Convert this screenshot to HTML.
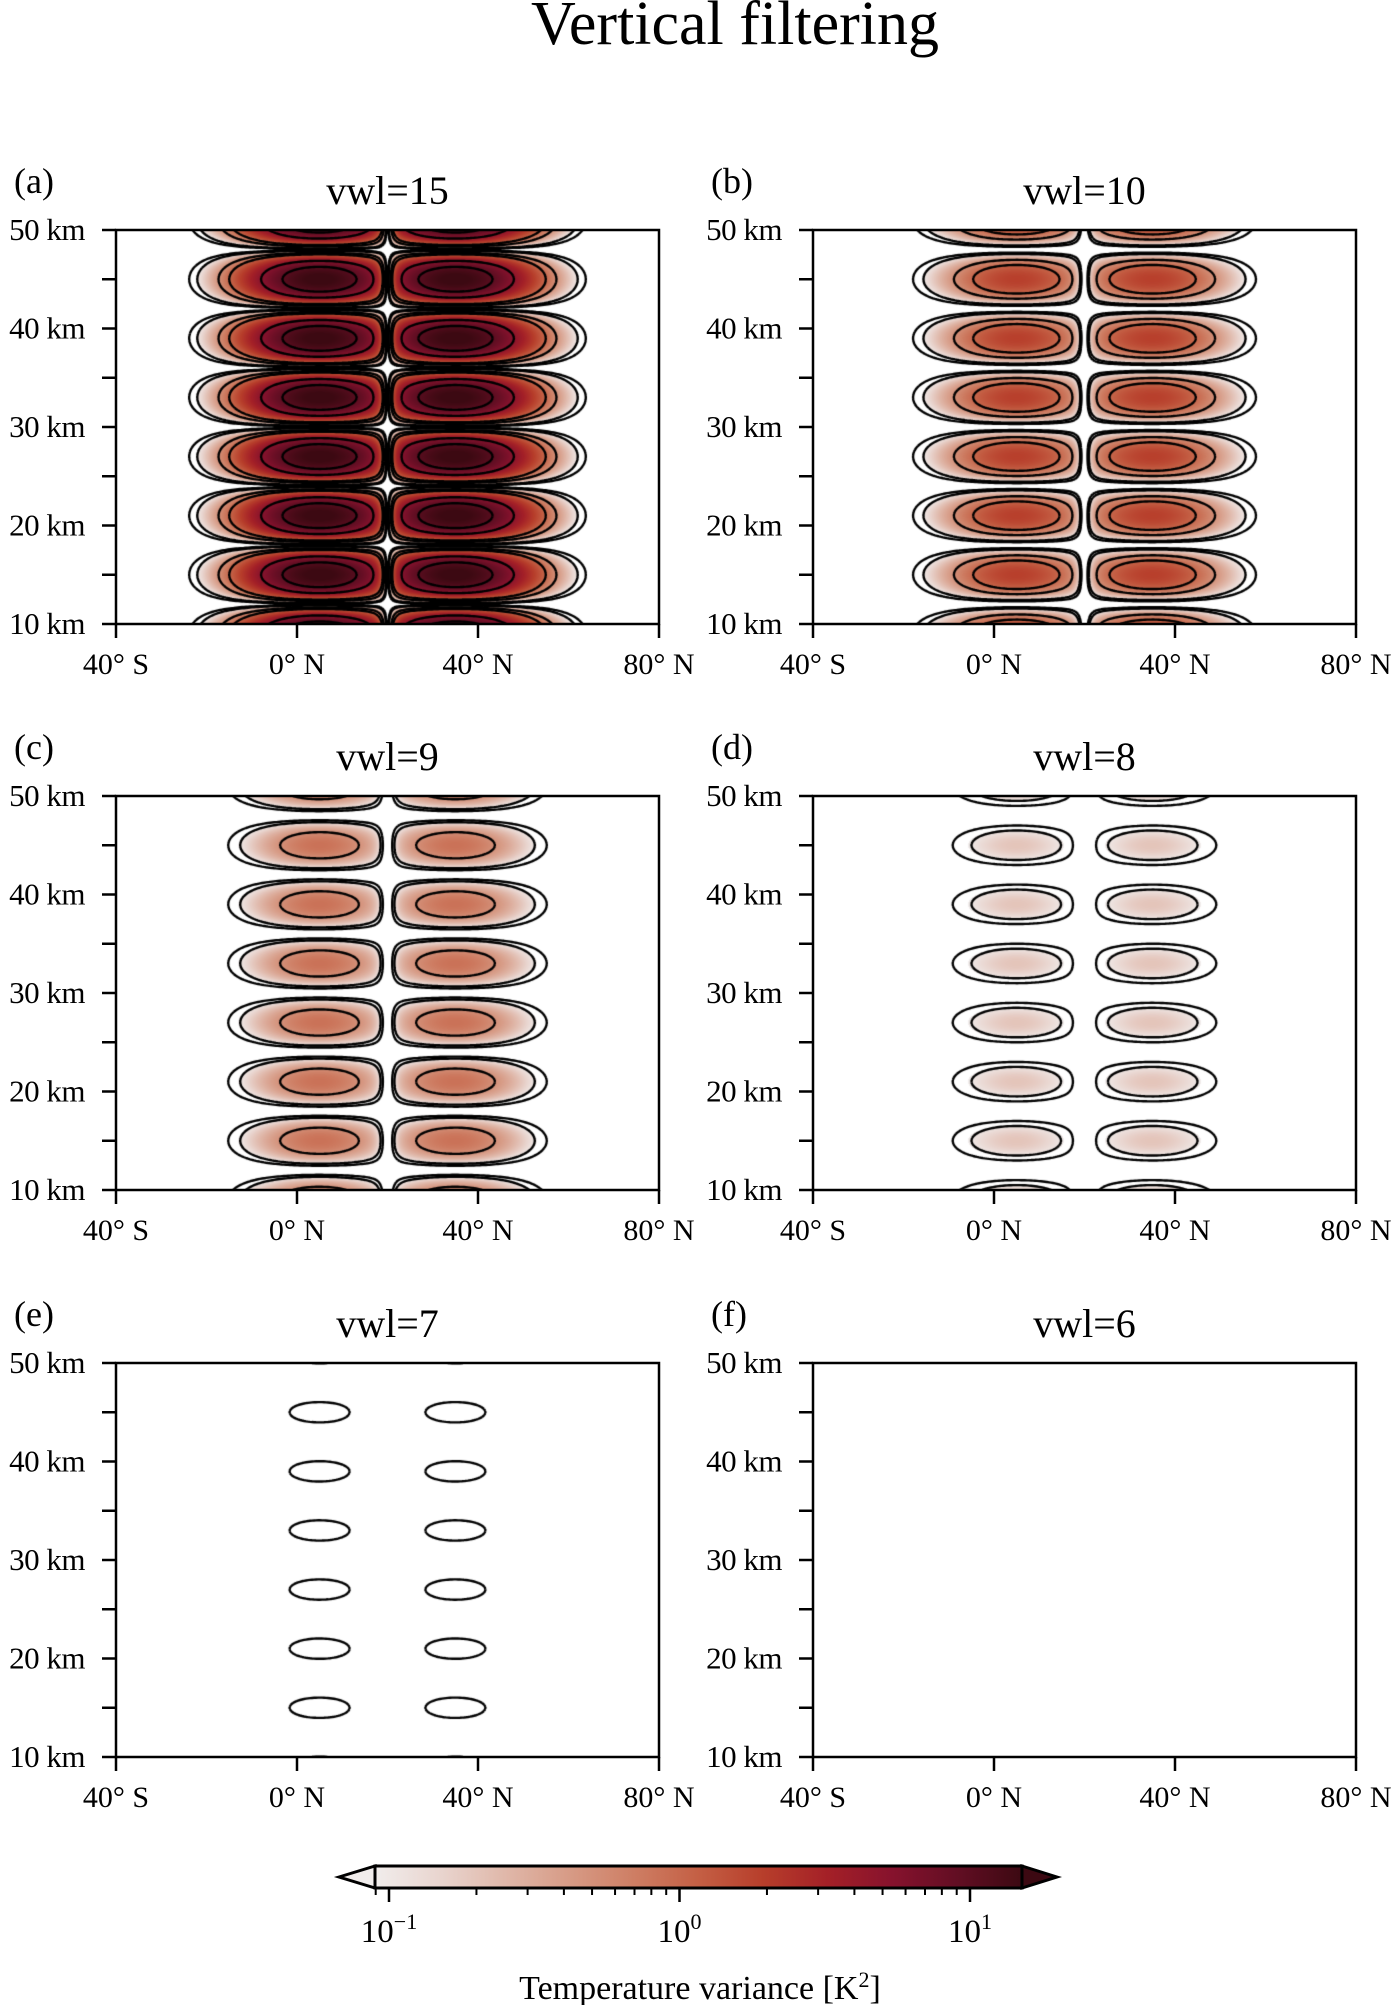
<!DOCTYPE html>
<html><head><meta charset="utf-8"><style>
html,body{margin:0;padding:0;background:#fff}
#root{position:relative;width:1395px;height:2005px;overflow:hidden;font-family:"Liberation Serif",serif}
canvas{position:absolute}
svg{position:absolute;left:0;top:0}
</style></head><body>
<div id="root">
<canvas id="c0" width="543" height="394" style="left:116px;top:230px"></canvas>
<canvas id="c1" width="543" height="394" style="left:813px;top:230px"></canvas>
<canvas id="c2" width="543" height="394" style="left:116px;top:796px"></canvas>
<canvas id="c3" width="543" height="394" style="left:813px;top:796px"></canvas>
<canvas id="c4" width="543" height="394" style="left:116px;top:1363px"></canvas>
<canvas id="c5" width="543" height="394" style="left:813px;top:1363px"></canvas>
<svg id="ov" width="1395" height="2005">
<text x="735" y="44" font-size="62" text-anchor="middle">Vertical filtering</text>
</svg>
</div>
<script>
const panelLabels=['(a)','(b)','(c)','(d)','(e)','(f)'];
const vwlValues=[15,10,9,8,7,6];
const peakVariance=[16,1.9,0.85,0.2,0.068,0.03];
const blobLatitudes=[5,35];
const layerHeights=[9,15,21,27,33,39,45,51];
const contourLevels=[0.05,0.1,0.5,1,5,10];
const xTicks=[-40,0,40,80];
const xTickLabels=['40° S','0° N','40° N','80° N'];
const yTicks=[10,20,30,40,50];
const yTickLabels=['10 km','20 km','30 km','40 km','50 km'];
const yMinorTicks=[15,25,35,45];
const cbarMajor=[0.1,1,10];
const cbarMajorLabels=['-1','0','1'];
const cbarMinor=[0.09,0.2,0.3,0.4,0.5,0.6,0.7,0.8,0.9,2,3,4,5,6,7,8,9];

const PW=543,PH=394,LATMIN=-40,LATMAX=80,ZMIN=10,ZMAX=50;
const colL=[116,813],rowT=[230,796,1363];
const xs=lat=>(lat-LATMIN)/(LATMAX-LATMIN)*PW;
const ys=z=>PH-(z-ZMIN)/(ZMAX-ZMIN)*PH;
const VMIN=0.0895,VMAX=15.1;
const stops=[[241,237,236],[233,213,207],[224,184,170],[215,155,134],[206,126,100],[196,95,68],[183,62,43],[164,32,39],[134,18,45],[98,14,35],[60,9,18]];
function cmap(v){let t=(Math.log10(v)-Math.log10(VMIN))/(Math.log10(VMAX)-Math.log10(VMIN));t=Math.max(0,Math.min(1,t));const f=t*10,i=Math.min(9,Math.floor(f)),r=f-i;return stops[i].map((c,k)=>Math.round(c+(stops[i+1][k]-c)*r));}
function field(A,lat,z){
  let zc=layerHeights[0];for(const h of layerHeights) if(Math.abs(z-h)<Math.abs(z-zc)) zc=h;
  const V=Math.pow(Math.cos(Math.PI*(z-zc)/6),2);
  let H=0;for(const c of blobLatitudes){const d=(lat-c)/12;H=Math.max(H,Math.exp(-d*d));}
  const g=Math.tanh((lat-20)/2);H*=g*g;
  return A*H*V;
}
const NS='http://www.w3.org/2000/svg';
const ov=document.getElementById('ov');
function sv(tag,attrs,txt){const e=document.createElementNS(NS,tag);for(const k in attrs)e.setAttribute(k,attrs[k]);if(txt!==undefined)e.textContent=txt;ov.appendChild(e);return e;}
for(let p=0;p<6;p++){
  const A=peakVariance[p];const cv=document.getElementById('c'+p);const ctx=cv.getContext('2d');
  const img=ctx.createImageData(PW,PH);
  for(let j=0;j<PH;j++){const z=ZMAX-(j+0.5)/PH*(ZMAX-ZMIN);
    for(let i=0;i<PW;i++){const lat=LATMIN+(i+0.5)/PW*(LATMAX-LATMIN);const v=field(A,lat,z);const o=(j*PW+i)*4;
      let c=[255,255,255];if(v>=VMIN)c=cmap(v);img.data[o]=c[0];img.data[o+1]=c[1];img.data[o+2]=c[2];img.data[o+3]=255;}}
  ctx.putImageData(img,0,0);
  const st=2,nx=Math.ceil(PW/st)+1,ny=Math.ceil(PH/st)+1;const G=[];
  for(let j=0;j<ny;j++){const row=[];const z=ZMAX-j*st/PH*(ZMAX-ZMIN);for(let i=0;i<nx;i++){row.push(field(A,LATMIN+i*st/PW*(LATMAX-LATMIN),z));}G.push(row);}
  ctx.strokeStyle='#000';ctx.lineWidth=2.4;
  for(const L of contourLevels){ctx.beginPath();
    for(let j=0;j<ny-1;j++)for(let i=0;i<nx-1;i++){
      const a=G[j][i],b=G[j][i+1],c=G[j+1][i+1],d=G[j+1][i];
      const pts=[];const x0=i*st,y0=j*st;
      if((a<L)!==(b<L))pts.push([x0+st*(L-a)/(b-a),y0]);
      if((b<L)!==(c<L))pts.push([x0+st,y0+st*(L-b)/(c-b)]);
      if((c<L)!==(d<L))pts.push([x0+st*(L-d)/(c-d),y0+st]);
      if((d<L)!==(a<L))pts.push([x0,y0+st*(L-a)/(d-a)]);
      for(let k=0;k+1<pts.length;k+=2){ctx.moveTo(pts[k][0],pts[k][1]);ctx.lineTo(pts[k+1][0],pts[k+1][1]);}
    }
    ctx.stroke();}
  const L0=colL[p%2],T0=rowT[Math.floor(p/2)];
  const fr=sv('rect',{x:L0,y:T0,width:PW,height:PH,fill:'none',stroke:'#000','stroke-width':2.5});
  
  xTicks.forEach((t,k)=>{const x=L0+xs(t);
    const tk=sv('line',{x1:x,x2:x,y1:T0+PH,y2:T0+PH+14,stroke:'#000','stroke-width':2.5});
    
    const tl=sv('text',{x:x,y:T0+PH+50,'font-size':30,'text-anchor':'middle'},xTickLabels[k]);
    });
  yTicks.forEach((t,k)=>{const y=T0+ys(t);
    const tk=sv('line',{x1:L0-14,x2:L0,y1:y,y2:y,stroke:'#000','stroke-width':2.5});
    
    const tl=sv('text',{x:L0-31,y:y+10,'font-size':31,'text-anchor':'end','letter-spacing':'-0.5'},yTickLabels[k]);
    });
  yMinorTicks.forEach(t=>{const y=T0+ys(t);
    const tk=sv('line',{x1:L0-14,x2:L0,y1:y,y2:y,stroke:'#000','stroke-width':2.5});
    });
  const ti=sv('text',{x:L0+PW/2,y:T0-26,'font-size':40,'text-anchor':'middle'},'vwl='+vwlValues[p]);
  
  const pl=sv('text',{x:L0-102,y:T0-37,'font-size':36},panelLabels[p]);
  
}
const CB0=375,CB1=1022,CBT=1866,CBB=1888;
const cx=v=>CB0+(Math.log10(v)-Math.log10(VMIN))/(Math.log10(VMAX)-Math.log10(VMIN))*(CB1-CB0);
const defs=sv('defs',{});const lg=document.createElementNS(NS,'linearGradient');lg.setAttribute('id','cg');defs.appendChild(lg);
stops.forEach((c,i)=>{const s=document.createElementNS(NS,'stop');s.setAttribute('offset',(i/10*100)+'%');s.setAttribute('stop-color','rgb('+c.join(',')+')');lg.appendChild(s);});
const lt=sv('polygon',{points:`339,1877 ${CB0},${CBT} ${CB0},${CBB}`,fill:'rgb(241,237,236)',stroke:'#000','stroke-width':3});

const rt=sv('polygon',{points:`1057,1877 ${CB1},${CBT} ${CB1},${CBB}`,fill:'rgb(60,9,18)',stroke:'#000','stroke-width':3});

const cb=sv('rect',{x:CB0,y:CBT,width:CB1-CB0,height:CBB-CBT,fill:'url(#cg)',stroke:'#000','stroke-width':3});

cbarMinor.forEach(v=>{const x=cx(v);const t=sv('line',{x1:x,x2:x,y1:CBB,y2:CBB+7,stroke:'#000','stroke-width':2});
  });
cbarMajor.forEach((v,k)=>{const x=cx(v);const t=sv('line',{x1:x,x2:x,y1:CBB,y2:CBB+14,stroke:'#000','stroke-width':2.5});
  
  const tx=sv('text',{x:x,y:1942,'font-size':33,'text-anchor':'middle'});
  
  const a=document.createElementNS(NS,'tspan');a.textContent='10';tx.appendChild(a);
  const b=document.createElementNS(NS,'tspan');b.setAttribute('dy','-13');b.setAttribute('font-size','22');b.textContent=cbarMajorLabels[k].replace('-','−');tx.appendChild(b);});
const ct=sv('text',{x:700,y:1999,'font-size':34,'text-anchor':'middle'});

ct.innerHTML='Temperature variance [K<tspan dy="-12" font-size="22">2</tspan><tspan dy="12">]</tspan>';
</script>
</body></html>
